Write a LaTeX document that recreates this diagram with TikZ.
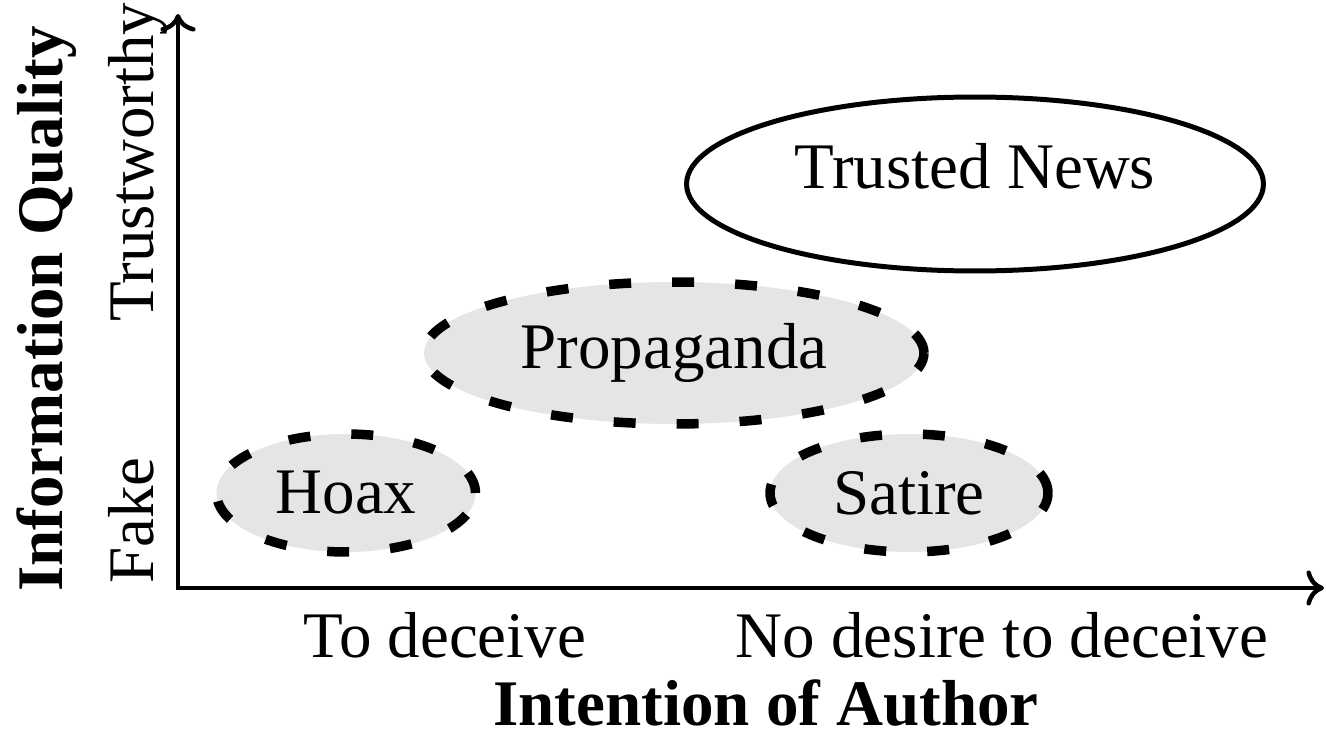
\documentclass[tikz,border=0pt]{standalone}
\usepackage{fontspec}
\setmainfont{Liberation Serif}
\usetikzlibrary{shapes.geometric, arrows.meta}

\begin{document}
\begin{tikzpicture}[
    x=0.02cm, y=-0.02cm,
    font=\fontsize{37}{44}\selectfont,
    axis/.style={line width=0.09cm, {Computer Modern Rightarrow[length=10pt,width=20pt]}-{Computer Modern Rightarrow[length=10pt,width=20pt]}},
    solidarea/.style={draw, ellipse, line width=0.1cm, inner sep=0},
    fuzzyarea/.style={draw, ellipse, fill=gray!20, line width=0.19cm, dash pattern=on 0.44cm off 0.82cm, inner sep=0},
    lbl/.style={inner sep=0, anchor=base},
    vlbl/.style={inner sep=0, rotate=90, anchor=base west}
]
\useasboundingbox (0,0) rectangle (1326,737);

% Axes
\coordinate (o) at (178,588);
\coordinate (xend) at (1324,588);
\coordinate (yend) at (178,14);
\draw[axis] (yend) -- (o) -- (xend);

% Regions of the plane
\node[solidarea, minimum width=11.54cm, minimum height=3.48cm] (tn) at (975,184) {};
\node[lbl] (tntext) at (975,188) {Trusted News};
\node[fuzzyarea, minimum width=10cm, minimum height=2.84cm] (prop) at (674,353) {Propaganda};
\node[fuzzyarea, minimum width=5.18cm, minimum height=2.36cm] (hoax) at (346,493) {Hoax};
\node[fuzzyarea, minimum width=5.56cm, minimum height=2.36cm] (sat) at (909,493) {Satire};

% Horizontal axis labels
\node[lbl] (dec) at (445,657) {To deceive};
\node[lbl] (nodec) at (1002,657) {No desire to deceive};
\node[lbl, font=\fontsize{37}{44}\selectfont\bfseries] (xtitle) at (766,725) {Intention of Author};

% Vertical axis labels
\node[vlbl] (fake) at (153,584) {Fake};
\node[vlbl] (trust) at (153,322) {Trustworthy};
\node[vlbl, font=\fontsize{37}{44}\selectfont\bfseries] (ytitle) at (62,592) {Information Quality};
\end{tikzpicture}
\end{document}
